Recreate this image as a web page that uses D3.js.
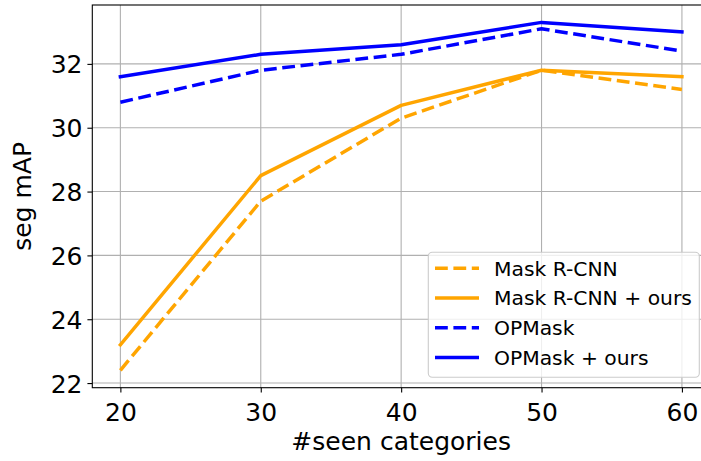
<!DOCTYPE html>
<html>
<head>
<meta charset="utf-8">
<script src="https://cdn.jsdelivr.net/npm/d3@7"></script>
<style>
html,body{margin:0;padding:0;background:#fff;}
svg{display:block;font-family:"DejaVu Sans",sans-serif;}
</style>
</head>
<body>
<svg id="chart" width="701" height="461"></svg>
<script>
const categories = [20, 30, 40, 50, 60];
const maskRCNN = [22.4, 27.7, 30.3, 31.8, 31.2];
const maskRCNNOurs = [23.2, 28.5, 30.7, 31.8, 31.6];
const opMask = [30.8, 31.8, 32.3, 33.1, 32.4];
const opMaskOurs = [31.6, 32.3, 32.6, 33.3, 33.0];
const xTicks = [20, 30, 40, 50, 60];
const yTicks = [22, 24, 26, 28, 30, 32];
const seriesNames = ["Mask R-CNN", "Mask R-CNN + ours", "OPMask", "OPMask + ours"];

const series = [
  {name: seriesNames[0], values: maskRCNN, color: "#FFA500", dashed: true},
  {name: seriesNames[1], values: maskRCNNOurs, color: "#FFA500", dashed: false},
  {name: seriesNames[2], values: opMask, color: "#0000FF", dashed: true},
  {name: seriesNames[3], values: opMaskOurs, color: "#0000FF", dashed: false}
];

const svg = d3.select("#chart");
const L = 92.3, R = 710, T = 5, B = 387.7;
const x = d3.scaleLinear().domain([18, 62]).range([L, R]);
const y = d3.scaleLinear().domain([21.855, 33.845]).range([B, T]);

// grid
const g = svg.append("g");
g.selectAll(".gx").data(xTicks).enter().append("line")
  .attr("x1", d => x(d)).attr("x2", d => x(d)).attr("y1", T).attr("y2", B)
  .attr("stroke", "#b0b0b0").attr("stroke-width", 1.1);
g.selectAll(".gy").data(yTicks).enter().append("line")
  .attr("x1", L).attr("x2", R).attr("y1", d => y(d)).attr("y2", d => y(d))
  .attr("stroke", "#b0b0b0").attr("stroke-width", 1.1);

// lines
const line = d3.line().x((d, i) => x(categories[i])).y(d => y(d));
series.forEach(s => {
  svg.append("path").datum(s.values)
    .attr("d", line)
    .attr("fill", "none")
    .attr("stroke", s.color)
    .attr("stroke-width", 3.47)
    .attr("stroke-linecap", s.dashed ? "butt" : "square")
    .attr("stroke-linejoin", "round")
    .attr("stroke-dasharray", s.dashed ? "12.8,5.6" : null);
});

// axes
const xAxis = d3.axisBottom(x).tickValues(xTicks).tickSize(4.9).tickPadding(4.9).tickFormat(d3.format("d"));
const yAxis = d3.axisLeft(y).tickValues(yTicks).tickSize(4.9).tickPadding(4.9).tickFormat(d3.format("d"));
const gx = svg.append("g").attr("transform", `translate(0,${B})`).call(xAxis);
const gy = svg.append("g").attr("transform", `translate(${L},0)`).call(yAxis);
[gx, gy].forEach(a => {
  a.select(".domain").remove();
  a.selectAll(".tick line").attr("stroke", "#000").attr("stroke-width", 1.1);
  a.selectAll(".tick text").attr("fill", "#000").style("font-size", "25px").style("font-family", "DejaVu Sans");
});
gx.selectAll(".tick text").attr("dy", null).attr("y", 33.3);
gy.selectAll(".tick text").attr("dy", "0.36em");

// spines
svg.append("rect").attr("x", L).attr("y", T).attr("width", R - L).attr("height", B - T)
  .attr("fill", "none").attr("stroke", "#000").attr("stroke-width", 1.1);

// axis labels
svg.append("text").attr("x", (L + R) / 2).attr("y", 450)
  .attr("text-anchor", "middle").style("font-size", "25px").text("#seen categories");
svg.append("text").attr("transform", `translate(31,${(T + B) / 2}) rotate(-90)`)
  .attr("text-anchor", "middle").style("font-size", "25px").text("seg mAP");

// legend
const lg = svg.append("g");
lg.append("rect").attr("x", 428.3).attr("y", 252.3).attr("width", 271).attr("height", 125)
  .attr("rx", 4).attr("ry", 4)
  .attr("fill", "#fff").attr("fill-opacity", 0.8)
  .attr("stroke", "#cccccc").attr("stroke-width", 1.1);
const rowY = d3.scaleLinear().domain([0, 3]).range([268.3, 357.6]);
series.forEach((s, i) => {
  const yy = rowY(i);
  lg.append("line").attr("x1", 435).attr("x2", 479).attr("y1", yy).attr("y2", yy)
    .attr("stroke", s.color).attr("stroke-width", 3.47)
    .attr("stroke-dasharray", s.dashed ? "12.8,5.6" : null);
  lg.append("text").attr("x", 494).attr("y", yy).attr("dy", "0.36em")
    .style("font-size", "20.3px").text(s.name);
});
</script>
</body>
</html>
